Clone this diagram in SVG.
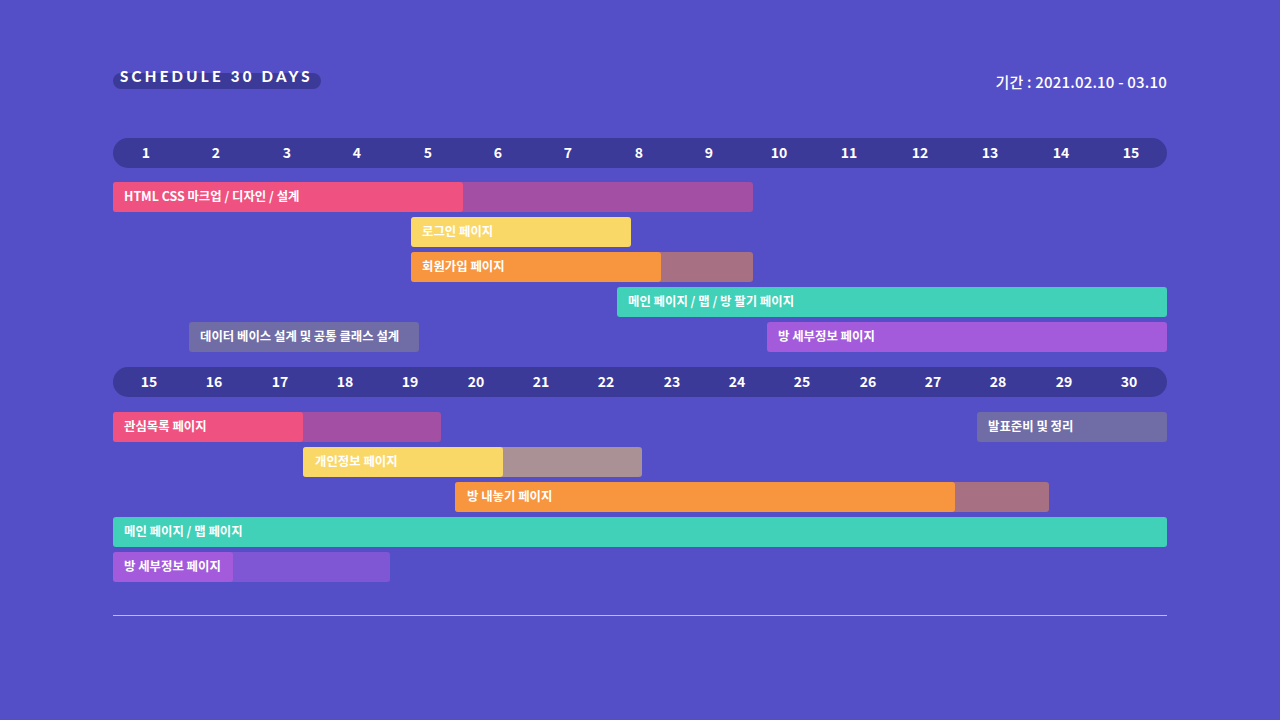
<svg xmlns="http://www.w3.org/2000/svg" width="1280" height="720" viewBox="0 0 1280 720">
<style>
.tl{fill:#3c3a99}
.num{font-family:"Noto Sans CJK KR","Noto Sans",sans-serif;font-size:14px;font-weight:700;fill:#ffffff;text-anchor:middle}
.lbl{font-family:"Noto Sans CJK KR","Noto Sans",sans-serif;font-size:12.4px;font-weight:700;fill:#ffffff}
.pink{fill:#ef5280}.pinkx{fill:#a34fa3}
.yel{fill:#fad868}.yelx{fill:#a99195}
.org{fill:#f8953f}.orgx{fill:#a87083}
.teal{fill:#40d1b8}
.gray{fill:#6f6ca6}
.vio{fill:#a35bdb}.viox{fill:#7f57d4}
</style>
<rect width="1280" height="720" fill="#554fc7"/>
<g id="title">
<rect x="113" y="73" width="208" height="16" rx="8" class="tl"/>
<text x="120" y="82" font-family="Lato,'Noto Sans',sans-serif" font-size="15" font-weight="900" fill="#ffffff" letter-spacing="3.3">SCHEDULE 30 DAYS</text>
</g>
<g id="period">
<text x="1167" y="88" text-anchor="end" font-family="'Noto Sans CJK KR','Noto Sans',sans-serif" font-size="15" font-weight="500" fill="#ffffff" letter-spacing="0.2">기간 : 2021.02.10 - 03.10</text>
</g>
<g id="timeline1">
<rect x="113" y="138" width="1054" height="30" rx="15" class="tl"/>
<text class="num" x="146" y="158">1</text>
<text class="num" x="216" y="158">2</text>
<text class="num" x="287" y="158">3</text>
<text class="num" x="357" y="158">4</text>
<text class="num" x="428" y="158">5</text>
<text class="num" x="498" y="158">6</text>
<text class="num" x="568" y="158">7</text>
<text class="num" x="639" y="158">8</text>
<text class="num" x="709" y="158">9</text>
<text class="num" x="779" y="158">10</text>
<text class="num" x="849" y="158">11</text>
<text class="num" x="920" y="158">12</text>
<text class="num" x="990" y="158">13</text>
<text class="num" x="1061" y="158">14</text>
<text class="num" x="1131" y="158">15</text>
</g>
<g id="task-html">
<rect x="113" y="182" width="640" height="30" rx="3" class="pinkx"/>
<rect x="113" y="182" width="350" height="30" rx="3" class="pink"/>
<text class="lbl" x="124" y="201">HTML CSS 마크업 / 디자인 / 설계</text>
</g>
<g id="task-login">
<rect x="411" y="217" width="220" height="30" rx="3" class="yel"/>
<text class="lbl" x="422" y="236">로그인 페이지</text>
</g>
<g id="task-signup">
<rect x="411" y="252" width="342" height="30" rx="3" class="orgx"/>
<rect x="411" y="252" width="250" height="30" rx="3" class="org"/>
<text class="lbl" x="422" y="271">회원가입 페이지</text>
</g>
<g id="task-main1">
<rect x="617" y="287" width="550" height="30" rx="3" class="teal"/>
<text class="lbl" x="628" y="306">메인 페이지 / 맵 / 방 팔기 페이지</text>
</g>
<g id="task-db">
<rect x="189" y="322" width="230" height="30" rx="3" class="gray"/>
<text class="lbl" x="200" y="341">데이터 베이스 설계 및 공통 클래스 설계</text>
</g>
<g id="task-detail1">
<rect x="767" y="322" width="400" height="30" rx="3" class="vio"/>
<text class="lbl" x="778" y="341">방 세부정보 페이지</text>
</g>
<g id="timeline2">
<rect x="113" y="367" width="1054" height="30" rx="15" class="tl"/>
<text class="num" x="149" y="387">15</text>
<text class="num" x="214" y="387">16</text>
<text class="num" x="280" y="387">17</text>
<text class="num" x="345" y="387">18</text>
<text class="num" x="410" y="387">19</text>
<text class="num" x="476" y="387">20</text>
<text class="num" x="541" y="387">21</text>
<text class="num" x="606" y="387">22</text>
<text class="num" x="672" y="387">23</text>
<text class="num" x="737" y="387">24</text>
<text class="num" x="802" y="387">25</text>
<text class="num" x="868" y="387">26</text>
<text class="num" x="933" y="387">27</text>
<text class="num" x="998" y="387">28</text>
<text class="num" x="1064" y="387">29</text>
<text class="num" x="1129" y="387">30</text>
</g>
<g id="task-wish">
<rect x="113" y="412" width="328" height="30" rx="3" class="pinkx"/>
<rect x="113" y="412" width="190" height="30" rx="3" class="pink"/>
<text class="lbl" x="124" y="431">관심목록 페이지</text>
</g>
<g id="task-present">
<rect x="977" y="412" width="190" height="30" rx="3" class="gray"/>
<text class="lbl" x="988" y="431">발표준비 및 정리</text>
</g>
<g id="task-profile">
<rect x="303" y="447" width="339" height="30" rx="3" class="yelx"/>
<rect x="303" y="447" width="200" height="30" rx="3" class="yel"/>
<text class="lbl" x="315" y="466">개인정보 페이지</text>
</g>
<g id="task-listing">
<rect x="455" y="482" width="594" height="30" rx="3" class="orgx"/>
<rect x="455" y="482" width="500" height="30" rx="3" class="org"/>
<text class="lbl" x="467" y="501">방 내놓기 페이지</text>
</g>
<g id="task-main2">
<rect x="113" y="517" width="1054" height="30" rx="3" class="teal"/>
<text class="lbl" x="124" y="536">메인 페이지 / 맵 페이지</text>
</g>
<g id="task-detail2">
<rect x="113" y="552" width="277" height="30" rx="3" class="viox"/>
<rect x="113" y="552" width="120" height="30" rx="3" class="vio"/>
<text class="lbl" x="124" y="571">방 세부정보 페이지</text>
</g>
<g id="connectors"></g>
<line x1="113" y1="615.5" x2="1167" y2="615.5" stroke="#bdb9f2" stroke-width="1"/>
</svg>
